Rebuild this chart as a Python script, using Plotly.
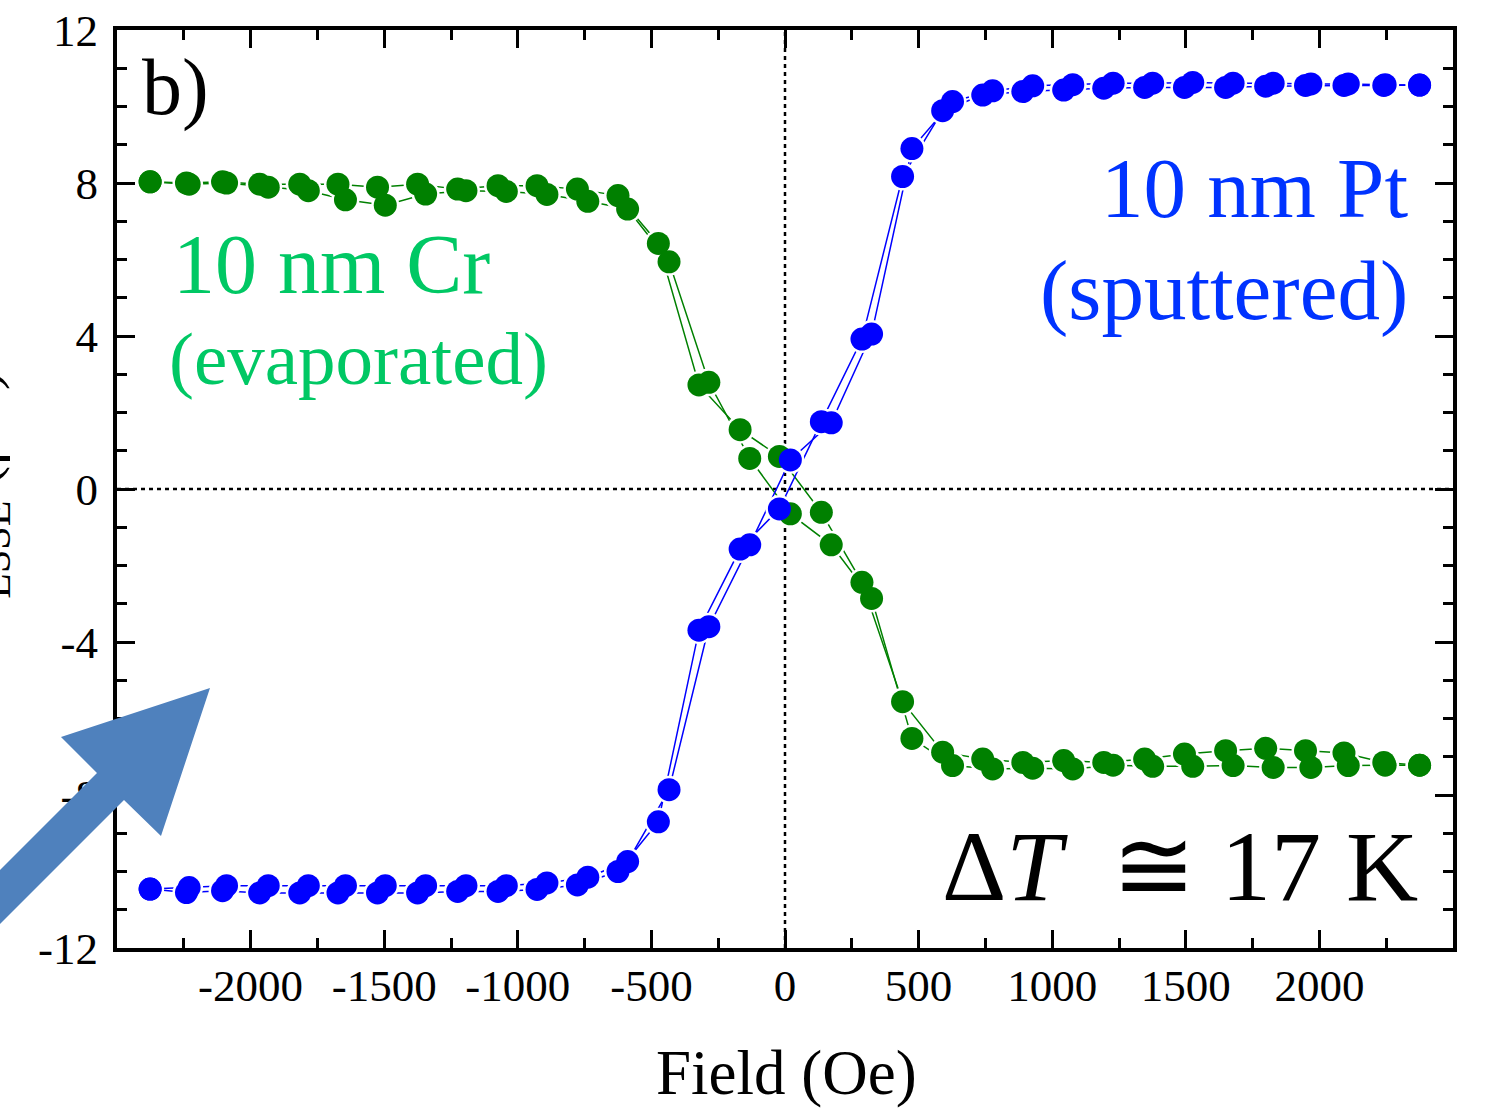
import plotly.graph_objects as go

# ---- measured data: longitudinal spin Seebeck voltage vs. applied field ----
# Two sweeps per sample; each sweep has its own field readings.
field_sweep_a = [-2376, -2240, -2105, -1966, -1816, -1673, -1525, -1375, -1225, -1074,
                 -928, -777, -625, -474, -322, -168, -21, 136, 288, 440,
                 590, 740, 890, 1043, 1193, 1346, 1495, 1649, 1799, 1948,
                 2092, 2241, 2375]
field_sweep_b = [-2376, -2230, -2090, -1934, -1784, -1645, -1496, -1345, -1194, -1043,
                 -891, -738, -589, -434, -285, -132, 20, 173, 324, 475,
                 627, 777, 927, 1077, 1228, 1376, 1526, 1677, 1827, 1968,
                 2108, 2246, 2375]

# 10 nm Pt (sputtered), microvolts
pt_sweep_a = [-10.46, -10.55, -10.50, -10.56, -10.56, -10.56, -10.56, -10.56, -10.52, -10.52,
              -10.47, -10.35, -10.00, -8.70, -3.69, -1.57, -0.52, 1.76, 3.92, 8.17,
              9.89, 10.30, 10.39, 10.43, 10.48, 10.50, 10.50, 10.50, 10.53, 10.55,
              10.55, 10.55, 10.56]
pt_sweep_b = [-10.46, -10.42, -10.37, -10.37, -10.37, -10.37, -10.37, -10.37, -10.37, -10.37,
              -10.30, -10.15, -9.74, -7.86, -3.60, -1.46, 0.76, 1.73, 4.05, 8.90,
              10.13, 10.41, 10.54, 10.57, 10.61, 10.61, 10.63, 10.61, 10.61, 10.59,
              10.59, 10.57, 10.56]

# 10 nm Cr (evaporated), microvolts
cr_sweep_a = [8.03, 8.00, 8.03, 7.97, 7.97, 7.97, 7.89, 7.97, 7.84, 7.93,
              7.93, 7.84, 7.67, 6.42, 2.72, 1.55, 0.85, -0.61, -2.44, -5.56,
              -6.88, -7.06, -7.15, -7.10, -7.15, -7.06, -6.93, -6.84, -6.78, -6.84,
              -6.90, -7.15, -7.22]
cr_sweep_b = [8.03, 7.97, 8.00, 7.89, 7.80, 7.56, 7.42, 7.71, 7.80, 7.78,
              7.70, 7.52, 7.32, 5.94, 2.79, 0.80, -0.65, -1.46, -2.86, -6.52,
              -7.23, -7.32, -7.30, -7.32, -7.22, -7.25, -7.25, -7.23, -7.28, -7.28,
              -7.23, -7.22, -7.22]

# axis ticks
x_tick_vals = [-2000, -1500, -1000, -500, 0, 500, 1000, 1500, 2000]
x_tick_text = ["-2000", "-1500", "-1000", "-500", "0", "500", "1000", "1500", "2000"]
x_minor_vals = [-2250, -1750, -1250, -750, -250, 250, 750, 1250, 1750, 2250]
y_tick_vals = [-12, -8, -4, 0, 4, 8, 12]
y_tick_text = ["-12", "-8", "-4", "0", "4", "8", "12"]
y_minor_vals = [-11, -10, -9, -7, -6, -5, -3, -2, -1, 1, 2, 3, 5, 6, 7, 9, 10, 11]

PT_COLOR = "#0000FF"
CR_COLOR = "#008000"
SERIF = "Liberation Serif"
MARK = 23
HALO = 28

W, H = 1485, 1110
L, R, T, B = 117, 32, 30, 162
PW, PH = W - L - R, H - T - B


def px(x):
    return (x - L) / PW


def py(y):
    return (H - B - y) / PH


series = [
    (field_sweep_a, cr_sweep_a, CR_COLOR),
    (field_sweep_b, cr_sweep_b, CR_COLOR),
    (field_sweep_a, pt_sweep_a, PT_COLOR),
    (field_sweep_b, pt_sweep_b, PT_COLOR),
]

fig = go.Figure()

# connecting lines
for xs, ys, col in series:
    fig.add_trace(go.Scatter(x=xs, y=ys, mode="lines",
                             line=dict(color=col, width=1.5),
                             hoverinfo="skip", showlegend=False))
# white halos so the lines stop short of every symbol
for xs, ys, col in series:
    fig.add_trace(go.Scatter(x=xs, y=ys, mode="markers",
                             marker=dict(size=HALO, color="white"),
                             hoverinfo="skip", showlegend=False))
# filled circles
for xs, ys, col in series:
    fig.add_trace(go.Scatter(x=xs, y=ys, mode="markers",
                             marker=dict(size=MARK, color=col),
                             showlegend=False))

axis_common = dict(
    showgrid=False, zeroline=False, showline=True, linecolor="black", linewidth=4,
    mirror="allticks", ticks="inside", ticklen=18, tickwidth=3, tickcolor="black",
    tickfont=dict(family=SERIF, size=45, color="black"), automargin=False,
)

fig.update_xaxes(range=[-2500, 2500], tickmode="array", tickvals=x_tick_vals,
                 ticktext=x_tick_text, ticklabelstandoff=-5,
                 minor=dict(tickmode="array", tickvals=x_minor_vals, ticks="inside",
                            ticklen=10, tickwidth=3, tickcolor="black", showgrid=False),
                 **axis_common)
fig.update_yaxes(range=[-12, 12], tickmode="array", tickvals=y_tick_vals,
                 ticktext=y_tick_text, ticklabelstandoff=6,
                 minor=dict(tickmode="array", tickvals=y_minor_vals, ticks="inside",
                            ticklen=10, tickwidth=3, tickcolor="black", showgrid=False),
                 **axis_common)

# dotted zero lines
fig.add_shape(type="line", xref="x", yref="paper", x0=0, x1=0, y0=0, y1=1,
              line=dict(color="black", width=2.5, dash="4px,4px"), layer="below")
fig.add_shape(type="line", xref="paper", yref="y", x0=0, x1=1, y0=0, y1=0,
              line=dict(color="black", width=2.5, dash="4px,4px"), layer="below")

# pointer arrow in the lower-left corner
arrow_pts = [(210, 688), (161, 836), (124, 800), (-12, 936), (-12, 882), (97, 773), (61, 737)]
path = "M " + " L ".join(f"{px(x):.5f},{py(y):.5f}" for x, y in arrow_pts) + " Z"
fig.add_shape(type="path", xref="paper", yref="paper", path=path,
              fillcolor="#4F81BD", line=dict(width=0), layer="above")


def note(text, x, y, size, color, xanchor="center", **kw):
    fig.add_annotation(text=text, x=px(x), y=py(y), xref="paper", yref="paper",
                       xanchor=xanchor, yanchor="middle", showarrow=False,
                       font=dict(family=SERIF, size=size, color=color), **kw)


note("b)", 140, 88, 80, "black", xanchor="left")
note("10 nm Cr", 171, 264, 84, "#00C864", xanchor="left")
note("(evaporated)", 167, 358, 75, "#00C864", xanchor="left")
note("10 nm Pt", 1410, 188, 85, "#0033FF", xanchor="right")
note("(sputtered)", 1410, 290, 85, "#0033FF", xanchor="right")
note("Δ<i>T</i>\u2002≅\u00a017\u00a0K", 1420, 866, 100, "black", xanchor="right")
note("Field (Oe)", 786, 1073, 63, "black")
note("V<sub>LSSE</sub> (μV)", -19, 506, 60, "black", textangle=-90)

fig.update_layout(
    width=W, height=H, autosize=False,
    margin=dict(l=L, r=R, t=T, b=B, pad=0, autoexpand=False),
    plot_bgcolor="white", paper_bgcolor="white",
    showlegend=False,
)

fig.write_html("out.html")
